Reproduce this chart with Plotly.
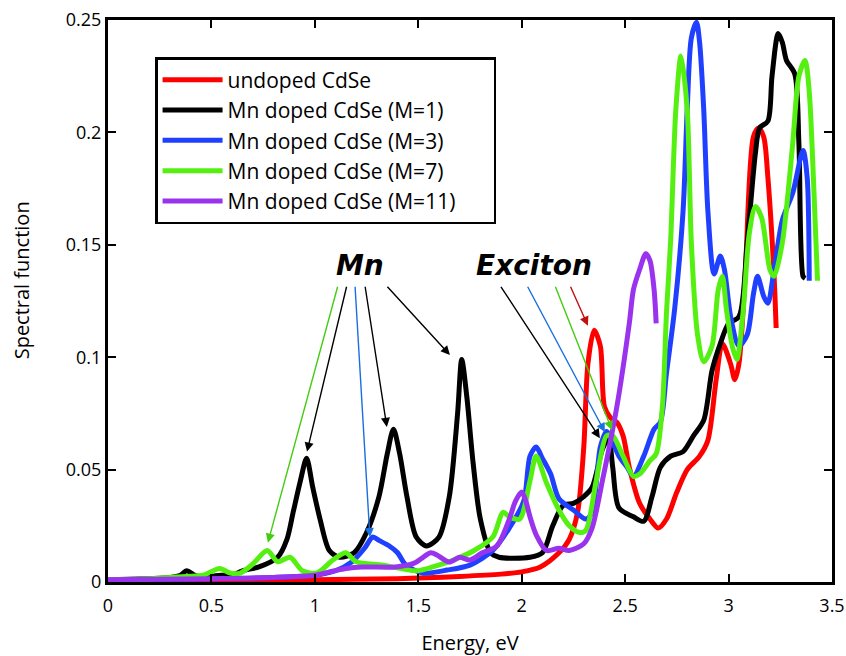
import plotly.graph_objects as go

# ---------------- data ----------------
names = ["undoped CdSe", "Mn doped CdSe (M=1)", "Mn doped CdSe (M=3)",
         "Mn doped CdSe (M=7)", "Mn doped CdSe (M=11)"]
colors = ["#ff0000", "#000000", "#2040ff", "#55f011", "#9933ee"]

red_E = [0, 0.5, 1.0, 1.4, 1.7, 1.9, 2.0, 2.09, 2.18, 2.23, 2.27, 2.30, 2.32, 2.35, 2.38, 2.40,
         2.43, 2.46, 2.49, 2.52, 2.57, 2.62, 2.66, 2.70, 2.75, 2.80, 2.86, 2.90, 2.94, 2.97,
         3.01, 3.03, 3.05, 3.08, 3.12, 3.145, 3.17, 3.19, 3.22, 3.23]
red_S = [0.0005, 0.0007, 0.001, 0.0015, 0.0025, 0.0035, 0.0045, 0.0067, 0.013, 0.019, 0.031,
         0.06, 0.097, 0.112, 0.105, 0.078, 0.073, 0.071, 0.065, 0.051, 0.035, 0.028, 0.024,
         0.028, 0.04, 0.05, 0.056, 0.063, 0.09, 0.106, 0.097, 0.09, 0.097, 0.136, 0.198,
         0.202, 0.198, 0.18, 0.136, 0.113]

black_E = [0, 0.1, 0.2, 0.3, 0.35, 0.38, 0.42, 0.46, 0.5, 0.55, 0.6, 0.65, 0.73, 0.82, 0.865,
           0.895, 0.93, 0.96, 0.99, 1.025, 1.07, 1.12, 1.19, 1.25, 1.31, 1.35, 1.38, 1.41,
           1.445, 1.49, 1.54, 1.60, 1.65, 1.69, 1.71, 1.735, 1.765, 1.80, 1.85, 1.89, 2.04,
           2.10, 2.15, 2.20, 2.25, 2.30, 2.34, 2.39, 2.42, 2.44, 2.47, 2.54, 2.59, 2.63, 2.67,
           2.72, 2.78, 2.83, 2.88, 2.92, 2.96, 3.00, 3.05, 3.09, 3.13, 3.15, 3.19, 3.21, 3.24,
           3.26, 3.28, 3.32, 3.34, 3.36, 3.37]
black_S = [0.001, 0.0012, 0.0015, 0.002, 0.003, 0.005, 0.003, 0.002, 0.0025, 0.003, 0.003,
           0.005, 0.0067, 0.011, 0.019, 0.031, 0.045, 0.055, 0.042, 0.028, 0.014, 0.011,
           0.013, 0.022, 0.038, 0.057, 0.068, 0.057, 0.038, 0.02, 0.016, 0.02, 0.038, 0.075,
           0.099, 0.082, 0.053, 0.028, 0.013, 0.011, 0.011, 0.013, 0.025, 0.034, 0.035, 0.038,
           0.042, 0.059, 0.064, 0.051, 0.033, 0.029, 0.027, 0.038, 0.051, 0.056, 0.058, 0.065,
           0.072, 0.094, 0.106, 0.115, 0.118, 0.151, 0.191, 0.202, 0.205, 0.225, 0.244, 0.24,
           0.232, 0.226, 0.195, 0.136, 0.135]

blue_E = [0, 0.5, 0.8, 1.0, 1.1, 1.18, 1.24, 1.28, 1.31, 1.36, 1.40, 1.44, 1.52, 1.64, 1.75,
          1.86, 1.94, 2.01, 2.04, 2.07, 2.10, 2.14, 2.18, 2.25, 2.31, 2.34, 2.38, 2.41, 2.44,
          2.47, 2.51, 2.54, 2.59, 2.64, 2.67, 2.70, 2.74, 2.78, 2.80, 2.82, 2.845, 2.86, 2.88,
          2.90, 2.93, 2.96, 2.98, 3.01, 3.05, 3.09, 3.12, 3.14, 3.17, 3.19, 3.22, 3.26, 3.31,
          3.36, 3.38, 3.39]
blue_S = [0.001, 0.0015, 0.002, 0.003, 0.005, 0.009, 0.015, 0.020, 0.0185, 0.016, 0.013,
          0.0075, 0.004, 0.0053, 0.0075, 0.014, 0.024, 0.036, 0.056, 0.06, 0.055, 0.048, 0.037,
          0.032, 0.028, 0.031, 0.06, 0.067, 0.062, 0.056, 0.051, 0.047, 0.056, 0.068, 0.071,
          0.093, 0.122, 0.165, 0.21, 0.242, 0.249, 0.24, 0.21, 0.165, 0.137, 0.145, 0.139,
          0.118, 0.105, 0.11, 0.128, 0.136, 0.127, 0.124, 0.139, 0.161, 0.173, 0.192, 0.18,
          0.134]

green_E = [0, 0.2, 0.38, 0.46, 0.54, 0.59, 0.64, 0.70, 0.77, 0.82, 0.88, 0.94, 1.01, 1.09,
           1.15, 1.20, 1.33, 1.49, 1.57, 1.67, 1.77, 1.86, 1.91, 1.94, 1.99, 2.04, 2.07, 2.12,
           2.18, 2.23, 2.28, 2.31, 2.36, 2.41, 2.44, 2.49, 2.54, 2.57, 2.62, 2.65, 2.68, 2.70,
           2.72, 2.745, 2.77, 2.80, 2.82, 2.85, 2.88, 2.92, 2.95, 2.97, 2.99, 3.02, 3.04, 3.07,
           3.10, 3.13, 3.16, 3.20, 3.22, 3.26, 3.31, 3.34, 3.37, 3.39, 3.41, 3.43]
green_S = [0.001, 0.0015, 0.0025, 0.003, 0.006, 0.004, 0.004, 0.008, 0.014, 0.009, 0.011,
           0.005, 0.004, 0.01, 0.013, 0.009, 0.0075, 0.005, 0.0067, 0.0098, 0.014, 0.02, 0.031,
           0.029, 0.028, 0.045, 0.056, 0.044, 0.032, 0.025, 0.022, 0.023, 0.045, 0.065, 0.065,
           0.056, 0.047, 0.048, 0.054, 0.057, 0.078, 0.12, 0.152, 0.21, 0.234, 0.21, 0.151,
           0.11, 0.098, 0.105, 0.13, 0.136, 0.121, 0.104, 0.099, 0.12, 0.155, 0.167, 0.162,
           0.139, 0.136, 0.151, 0.195, 0.225, 0.232, 0.218, 0.18, 0.134]

purple_E = [0, 0.5, 0.8, 1.0, 1.07, 1.15, 1.23, 1.39, 1.48, 1.56, 1.59, 1.65, 1.70, 1.75, 1.81,
            1.88, 1.94, 1.97, 2.0, 2.02, 2.04, 2.07, 2.12, 2.18, 2.23, 2.30, 2.34, 2.39, 2.46,
            2.52, 2.54, 2.57, 2.60, 2.62, 2.64, 2.65]
purple_S = [0.001, 0.0015, 0.002, 0.003, 0.0045, 0.006, 0.0067, 0.0067, 0.0084, 0.013, 0.012,
            0.0089, 0.011, 0.0098, 0.013, 0.016, 0.028, 0.036, 0.04, 0.036, 0.029, 0.021,
            0.014, 0.015, 0.014, 0.017, 0.024, 0.045, 0.078, 0.115, 0.13, 0.139, 0.146, 0.143,
            0.13, 0.115]

series_E = [red_E, black_E, blue_E, green_E, purple_E]
series_S = [red_S, black_S, blue_S, green_S, purple_S]

x_ticks = [0, 0.5, 1, 1.5, 2, 2.5, 3, 3.5]
x_ticktext = ["0", "0.5", "1", "1.5", "2", "2.5", "3", "3.5"]
y_ticks = [0, 0.05, 0.1, 0.15, 0.2, 0.25]
y_ticktext = ["0", "0.05", "0.1", "0.15", "0.2", "0.25"]

# annotation arrows: (tail E, tail S, head E, head S, colour)
mn_label = ("Mn", 1.22, 0.141)
exciton_label = ("Exciton", 2.06, 0.141)
arrows = [
    (1.112, 0.132, 0.773, 0.0175, "#44cc11"),
    (1.155, 0.132, 0.962, 0.058, "#000000"),
    (1.194, 0.132, 1.266, 0.020, "#1a6fe0"),
    (1.242, 0.132, 1.348, 0.069, "#000000"),
    (1.344, 0.132, 1.653, 0.101, "#000000"),
    (1.895, 0.132, 2.378, 0.064, "#000000"),
    (2.025, 0.132, 2.402, 0.0667, "#1a6fe0"),
    (2.160, 0.132, 2.436, 0.0676, "#44cc11"),
    (2.233, 0.132, 2.320, 0.114, "#c01010"),
]

# ---------------- figure ----------------
fig = go.Figure()
for i, (name, col, E, S) in enumerate(zip(names, colors, series_E, series_S)):
    # pad the longest legend entry so the legend box is as wide as in the reference
    label = name + ("\u00a0" * 6 + "\u200b" if i == len(names) - 1 else "")
    fig.add_trace(go.Scatter(x=E, y=S, mode="lines", name=label,
                             line=dict(color=col, width=5, shape="spline", smoothing=0.8)))

for (tx, ty, hx, hy, col) in arrows:
    fig.add_annotation(x=hx, y=hy, ax=tx, ay=ty, xref="x", yref="y", axref="x", ayref="y",
                       showarrow=True, arrowhead=2, arrowsize=1.3, arrowwidth=1.4,
                       arrowcolor=col, text="")

for (txt, lx, ly) in (mn_label, exciton_label):
    fig.add_annotation(x=lx, y=ly, xref="x", yref="y", text="<b><i>%s</i></b>" % txt,
                       showarrow=False, font=dict(family="DejaVu Sans", size=28, color="black"))

tick_font = dict(family="Open Sans, sans-serif", size=18, color="black")
title_font = dict(family="Open Sans, sans-serif", size=20, color="black")

# y-axis title placed as rotated text (it sits above the plot centre in the reference)
fig.add_annotation(text="Spectral function", textangle=-90, xref="paper", yref="paper",
                   x=-0.12, y=0.537, xanchor="center", yanchor="middle", showarrow=False,
                   font=title_font)

fig.update_xaxes(range=[0, 3.5], tickvals=x_ticks, ticktext=x_ticktext, ticks="inside",
                 ticklen=8, tickwidth=2, tickcolor="black", showline=True, linewidth=3,
                 linecolor="black", mirror="ticks", showgrid=False, zeroline=False,
                 tickfont=tick_font, automargin=False, ticklabelstandoff=5,
                 ticklabeloverflow="allow",
                 title=dict(text="Energy, eV", font=title_font, standoff=27))
fig.update_yaxes(range=[0, 0.25], tickvals=y_ticks, ticktext=y_ticktext, ticks="inside",
                 ticklen=8, tickwidth=2, tickcolor="black", showline=True, linewidth=3,
                 linecolor="black", mirror="ticks", showgrid=False, zeroline=False,
                 tickfont=tick_font, automargin=False, ticklabeloverflow="allow")
fig.update_layout(
    width=846, height=656,
    margin=dict(l=108, r=14, t=20, b=74),
    plot_bgcolor="white", paper_bgcolor="white",
    legend=dict(x=0.065, y=0.934, xanchor="left", yanchor="top", bgcolor="white",
                bordercolor="black", borderwidth=2.5, itemwidth=60,
                font=dict(family="Open Sans, sans-serif", size=21, color="black"),
                tracegroupgap=0),
)
# remove the page's default 8 px body margin so the figure fills the window exactly
fig.write_html("out.html", config={"displayModeBar": False},
               post_script="document.body.style.margin='0';")
